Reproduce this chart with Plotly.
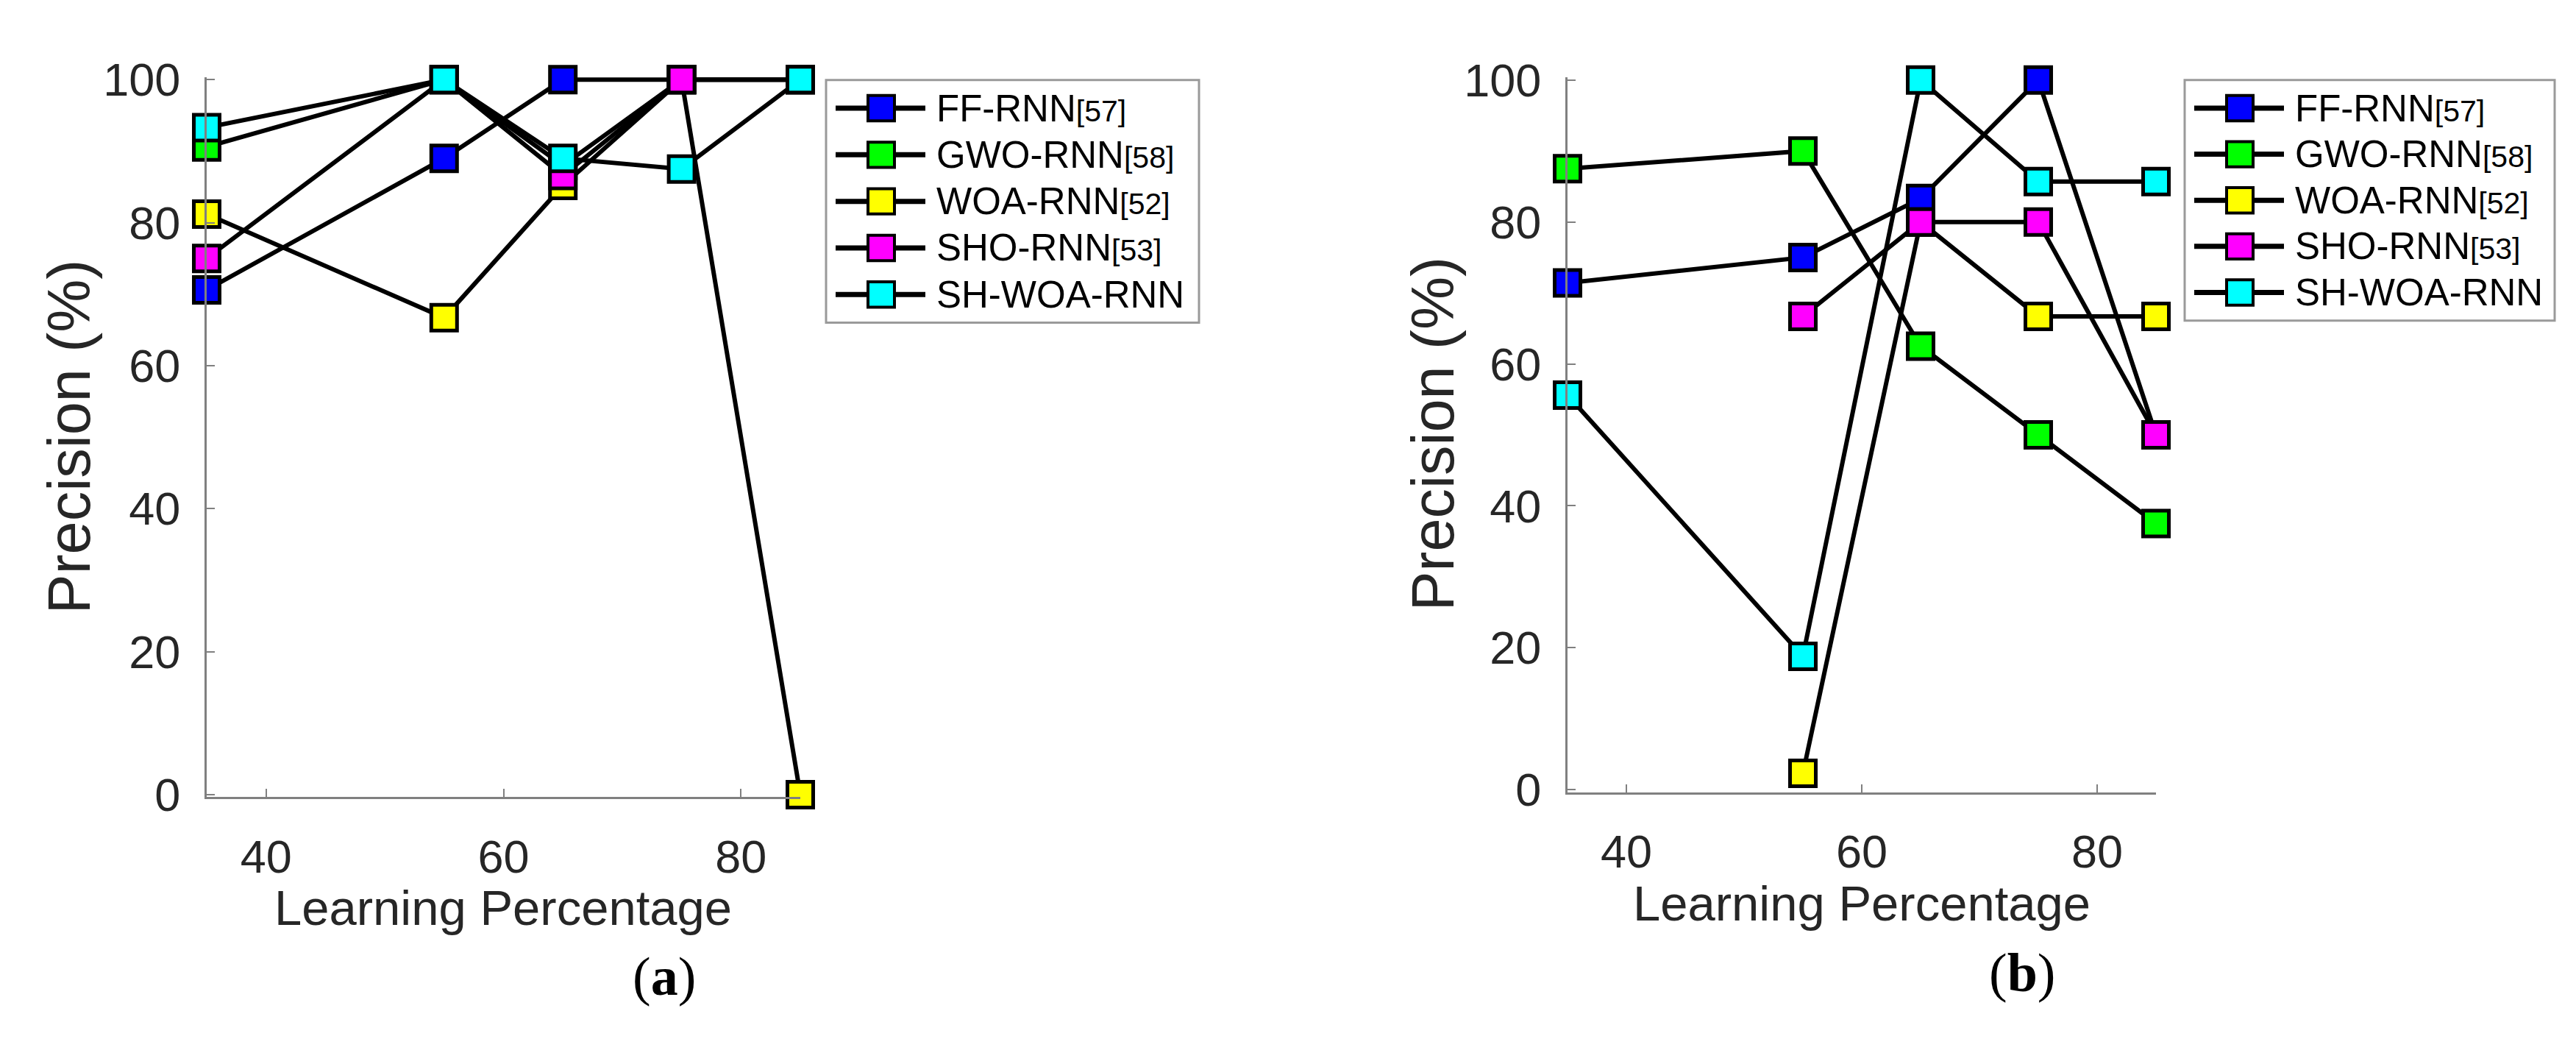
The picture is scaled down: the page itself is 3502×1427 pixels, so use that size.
import plotly.graph_objects as go

# ---------------- data ----------------
learning_pct = [35, 55, 65, 75, 85]
series_names = ["FF-RNN", "GWO-RNN", "WOA-RNN", "SHO-RNN", "SH-WOA-RNN"]
series_refs = ["[57]", "[58]", "[52]", "[53]", ""]
series_colors = ["#0000FF", "#00FF00", "#FFFF00", "#FF00FF", "#00FFFF"]

# panel (a)
a_ff = [70.6, 89.0, 100.0, 100.0, 100.0]
a_gwo = [90.6, 100.0, 88.0, 100.0, 100.0]
a_woa = [81.2, 66.7, 85.2, 100.0, 0.0]
a_sho = [75.0, 100.0, 86.6, 100.0, 100.0]
a_shwoa = [93.3, 100.0, 89.0, 87.5, 100.0]

# panel (b)
b_ff = [71.4, 75.0, 83.3, 100.0, 50.0]
b_gwo = [87.5, 90.0, 62.5, 50.0, 37.5]
b_woa = [None, 2.3, 80.0, 66.7, 66.7]
b_sho = [None, 66.7, 80.0, 80.0, 50.0]
b_shwoa = [55.6, 18.8, 100.0, 85.7, 85.7]

x_ticks = [40, 60, 80]
y_ticks = [0, 20, 40, 60, 80, 100]
x_title = "Learning Percentage"
y_title = "Precision (%)"
captions = ["(<b>a</b>)", "(<b>b</b>)"]

panel_a = [a_ff, a_gwo, a_woa, a_sho, a_shwoa]
panel_b = [b_ff, b_gwo, b_woa, b_sho, b_shwoa]

# ---------------- layout geometry (pixels) ----------------
W, H = 3502, 1427


def fx(p):
    return p / W


def fy(p):
    return 1 - p / H


panels = [
    dict(x35=273, x85=1080, y0=1089, y100=72.5, leg=(1115, 73, 1622, 418),
         xt=676, xty=1250, yt=86, yty=580, cap=(895, 1348), data=panel_a),
    dict(x35=2123, x85=2923, y0=1082, y100=73, leg=(2962, 73, 3465, 415),
         xt=2523, xty=1243, yt=1940, yty=576, cap=(2741, 1342), data=panel_b),
]
YPAD = 0.35

FONT = "Liberation Sans, Arial, sans-serif"
TXT = "#262626"
AXC = "#808080"

fig = go.Figure()
shapes = []
annotations = []
layout_axes = {}

for pi, P in enumerate(panels):
    sfx = "" if pi == 0 else str(pi + 1)
    ppu = (P["y0"] - P["y100"]) / 100.0
    ydom = [fy(P["y0"] + YPAD * ppu), fy(P["y100"] - YPAD * ppu)]
    xdom = [fx(P["x35"]), fx(P["x85"])]

    axis_common = dict(
        showline=True, linecolor=AXC, linewidth=3, mirror=False,
        ticks="inside", ticklen=11, tickwidth=2, tickcolor=AXC,
        showgrid=False, zeroline=False,
        tickfont=dict(family=FONT, size=63, color=TXT),
    )
    layout_axes["xaxis" + sfx] = dict(
        axis_common, domain=xdom, range=[learning_pct[0], learning_pct[-1]],
        tickvals=x_ticks, anchor="y" + sfx, ticklabelstandoff=24,
    )
    layout_axes["yaxis" + sfx] = dict(
        axis_common, domain=ydom, range=[y_ticks[0] - YPAD, y_ticks[-1] + YPAD],
        tickvals=y_ticks, anchor="x" + sfx, ticklabelstandoff=20,
    )

    for si, vals in enumerate(P["data"]):
        fig.add_trace(go.Scatter(
            x=learning_pct, y=vals, mode="lines+markers",
            xaxis="x" + sfx, yaxis="y" + sfx,
            name=series_names[si] + series_refs[si],
            line=dict(color="black", width=6),
            marker=dict(symbol="square", size=35, color=series_colors[si],
                        line=dict(color="black", width=5)),
            cliponaxis=False, showlegend=False,
        ))

    # axis titles
    annotations.append(dict(
        x=fx(P["xt"]), y=fy(P["xty"]), xref="paper", yref="paper",
        text=x_title, showarrow=False, xanchor="center", yanchor="middle",
        font=dict(family=FONT, size=67, color=TXT)))
    annotations.append(dict(
        x=fx(P["yt"]), y=fy(P["yty"]), xref="paper", yref="paper",
        text=y_title, showarrow=False, xanchor="center", yanchor="middle",
        textangle=-90, font=dict(family=FONT, size=81, color=TXT)))
    # caption
    annotations.append(dict(
        x=fx(P["cap"][0]), y=fy(P["cap"][1]), xref="paper", yref="paper",
        text=captions[pi], showarrow=False, xanchor="center", yanchor="middle",
        font=dict(family="Liberation Serif, Times New Roman, serif", size=74,
                  color="black")))

    # legend box
    lx0, ly0, lx1, ly1 = P["leg"]
    shapes.append(dict(type="rect", xref="paper", yref="paper",
                       x0=fx(lx0), x1=fx(lx1), y0=fy(ly1), y1=fy(ly0),
                       fillcolor="white", line=dict(color="#9a9a9a", width=3),
                       layer="above"))
    row_h = (ly1 - ly0 - 80) / (len(series_names) - 1)
    for si in range(len(series_names)):
        cy = ly0 + 40 + si * row_h
        shapes.append(dict(type="line", xref="paper", yref="paper",
                           x0=fx(lx0 + 13), x1=fx(lx0 + 135), y0=fy(cy), y1=fy(cy),
                           line=dict(color="black", width=7), layer="above"))
        shapes.append(dict(type="rect", xref="paper", yref="paper",
                           x0=fx(lx0 + 75 - 18), x1=fx(lx0 + 75 + 18),
                           y0=fy(cy + 18), y1=fy(cy - 18),
                           fillcolor=series_colors[si],
                           line=dict(color="black", width=4), layer="above"))
        label = series_names[si]
        if series_refs[si]:
            label += "<span style='font-size:41px'>" + series_refs[si] + "</span>"
        annotations.append(dict(
            x=fx(lx0 + 148), y=fy(cy), xref="paper", yref="paper",
            text=label, showarrow=False, xanchor="left", yanchor="middle",
            font=dict(family=FONT, size=51, color="black")))

fig.update_layout(
    width=W, height=H,
    margin=dict(l=0, r=0, t=0, b=0),
    paper_bgcolor="white", plot_bgcolor="white",
    showlegend=False,
    shapes=shapes, annotations=annotations,
    **layout_axes,
)

fig.write_html("out.html")
